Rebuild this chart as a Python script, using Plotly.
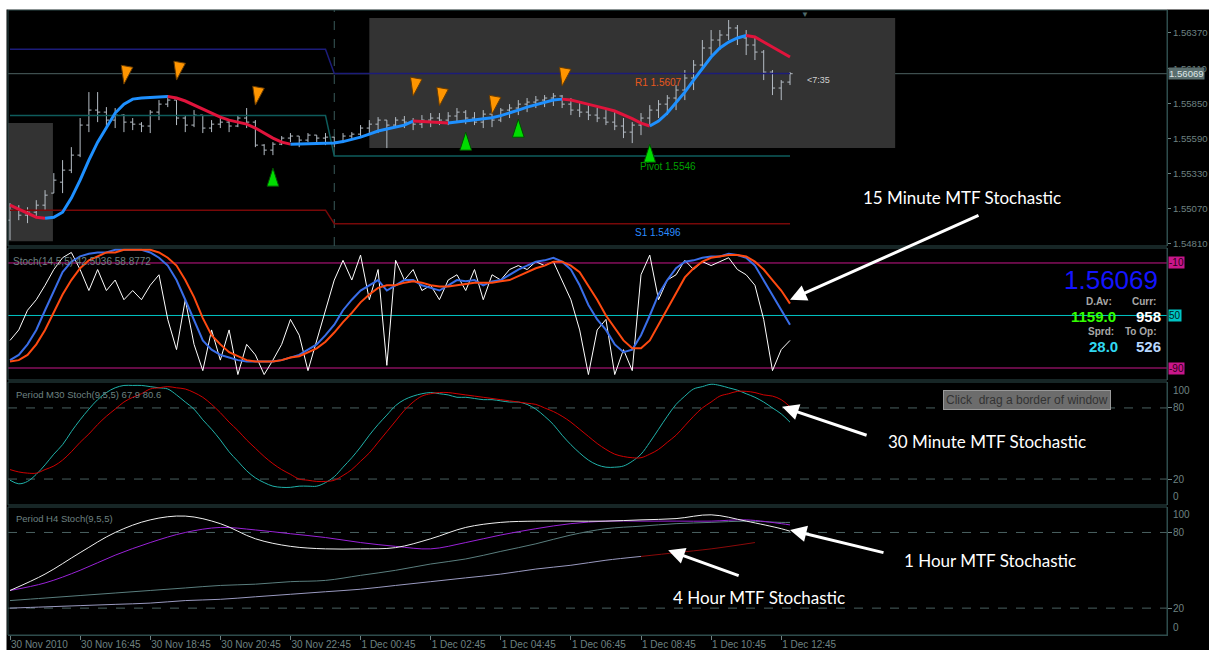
import plotly.graph_objects as go

# ---------------- data ----------------
time_labels = ["30 Nov 2010", "30 Nov 16:45", "30 Nov 18:45", "30 Nov 20:45", "30 Nov 22:45",
               "1 Dec 00:45", "1 Dec 02:45", "1 Dec 04:45", "1 Dec 06:45", "1 Dec 08:45",
               "1 Dec 10:45", "1 Dec 12:45"]
label_bars = [0, 8, 16, 24, 32, 40, 48, 56, 64, 72, 80, 88]
n_bars = 90
bars = list(range(n_bars))

opens = [1.54986,1.55060,1.55023,1.55045,1.55097,1.55186,1.55267,1.55356,1.55467,1.55689,
         1.55800,1.55785,1.55726,1.55763,1.55711,1.55696,1.55682,1.55785,1.55844,1.55874,
         1.55741,1.55689,1.55763,1.55667,1.55696,1.55711,1.55682,1.55741,1.55711,1.55541,
         1.55504,1.55548,1.55593,1.55608,1.55578,1.55615,1.55593,1.55600,1.55563,1.55608,
         1.55622,1.55667,1.55696,1.55726,1.55689,1.55726,1.55711,1.55696,1.55726,1.55741,
         1.55726,1.55756,1.55785,1.55741,1.55711,1.55770,1.55726,1.55800,1.55815,1.55844,
         1.55859,1.55874,1.55889,1.55904,1.55844,1.55800,1.55785,1.55763,1.55741,1.55711,
         1.55682,1.55637,1.55689,1.55741,1.55800,1.55844,1.55889,1.55948,1.56037,1.56133,
         1.56259,1.56318,1.56355,1.56407,1.56333,1.56281,1.56229,1.56081,1.55963,1.56007]
highs = [1.55112,1.55097,1.55082,1.55134,1.55208,1.55334,1.55430,1.55526,1.55741,1.55933,
         1.55933,1.55822,1.55815,1.55770,1.55741,1.55711,1.55800,1.55874,1.55911,1.55874,
         1.55763,1.55800,1.55763,1.55726,1.55741,1.55726,1.55763,1.55815,1.55726,1.55548,
         1.55563,1.55608,1.55630,1.55608,1.55630,1.55615,1.55630,1.55600,1.55630,1.55637,
         1.55689,1.55726,1.55748,1.55726,1.55748,1.55756,1.55741,1.55763,1.55778,1.55778,
         1.55785,1.55815,1.55800,1.55785,1.55800,1.55785,1.55815,1.55844,1.55874,1.55889,
         1.55904,1.55911,1.55926,1.55911,1.55889,1.55852,1.55837,1.55815,1.55800,1.55785,
         1.55741,1.55711,1.55778,1.55837,1.55874,1.55911,1.55985,1.56096,1.56170,1.56318,
         1.56392,1.56392,1.56466,1.56429,1.56392,1.56333,1.56244,1.56096,1.56022,1.56081]
lows = [1.54838,1.54986,1.54964,1.55008,1.55060,1.55186,1.55186,1.55334,1.55452,1.55637,
        1.55711,1.55667,1.55667,1.55637,1.55652,1.55637,1.55630,1.55726,1.55822,1.55689,
        1.55637,1.55674,1.55630,1.55637,1.55667,1.55637,1.55674,1.55667,1.55526,1.55467,
        1.55467,1.55541,1.55563,1.55526,1.55563,1.55556,1.55541,1.55526,1.55556,1.55578,
        1.55593,1.55630,1.55630,1.55519,1.55674,1.55667,1.55652,1.55667,1.55674,1.55689,
        1.55689,1.55711,1.55696,1.55689,1.55667,1.55674,1.55711,1.55741,1.55763,1.55785,
        1.55815,1.55822,1.55830,1.55815,1.55763,1.55748,1.55726,1.55711,1.55689,1.55652,
        1.55593,1.55556,1.55615,1.55689,1.55741,1.55763,1.55800,1.55874,1.55948,1.56096,
        1.56207,1.56244,1.56318,1.56281,1.56207,1.56170,1.56022,1.55911,1.55874,1.55985]
closes = [1.55060,1.55023,1.55045,1.55097,1.55171,1.55282,1.55356,1.55467,1.55689,1.55800,
          1.55785,1.55726,1.55763,1.55711,1.55696,1.55682,1.55785,1.55844,1.55874,1.55741,
          1.55689,1.55763,1.55667,1.55696,1.55711,1.55682,1.55741,1.55711,1.55541,1.55504,
          1.55548,1.55593,1.55608,1.55578,1.55615,1.55593,1.55600,1.55563,1.55608,1.55622,
          1.55667,1.55696,1.55726,1.55689,1.55726,1.55711,1.55696,1.55726,1.55741,1.55726,
          1.55756,1.55785,1.55741,1.55711,1.55770,1.55726,1.55800,1.55815,1.55844,1.55859,
          1.55874,1.55889,1.55904,1.55844,1.55800,1.55785,1.55763,1.55741,1.55711,1.55682,
          1.55637,1.55689,1.55741,1.55800,1.55844,1.55889,1.55948,1.56037,1.56133,1.56259,
          1.56318,1.56355,1.56407,1.56333,1.56281,1.56229,1.56081,1.55963,1.56007,1.56069]

# smoothed trend line (blue rising / red falling)
trend_ma = [1.55097,1.55067,1.55038,1.55008,1.55001,1.55008,1.55045,1.55149,1.55282,1.55430,
            1.55563,1.55674,1.55778,1.55844,1.55881,1.55889,1.55893,1.55896,1.55900,1.55889,
            1.55867,1.55837,1.55808,1.55778,1.55748,1.55726,1.55711,1.55696,1.55667,1.55630,
            1.55593,1.55563,1.55548,1.55550,1.55551,1.55553,1.55554,1.55556,1.55567,1.55581,
            1.55600,1.55622,1.55645,1.55660,1.55674,1.55689,1.55719,1.55715,1.55711,1.55708,
            1.55704,1.55711,1.55719,1.55726,1.55733,1.55744,1.55759,1.55778,1.55800,1.55822,
            1.55841,1.55859,1.55874,1.55881,1.55874,1.55859,1.55844,1.55830,1.55811,1.55793,
            1.55767,1.55737,1.55704,1.55682,1.55719,1.55778,1.55852,1.55933,1.56022,1.56111,
            1.56192,1.56259,1.56303,1.56333,1.56351,1.56340,1.56303,1.56266,1.56229,1.56192]

price_ticks = [1.56370, 1.56110, 1.55850, 1.55590, 1.55330, 1.55070, 1.54810]
bid_price = 1.56069
bid_text = "1.56069"
timer_text = "<7:35"

pivot_names = ["R1", "Pivot", "S1"]
pivot_prev = [1.5625, 1.5576, 1.5506]
pivot_curr = [1.5607, 1.5546, 1.5496]
day_start_bar = 37

# fractal arrow tips (down arrows: tip at bottom, up arrows: tip at top)
frac_dn_x = [13, 19, 28, 46, 49, 55, 63]
frac_dn_y = [1.55992, 1.56022, 1.55837, 1.55904, 1.55830, 1.55770, 1.55978]
frac_up_x = [30, 52, 58, 73]
frac_up_y = [1.55371, 1.55637, 1.55733, 1.55548]

box_x0 = [-1.0, 41.0]
box_x1 = [4.9, 101.0]
box_lo = [1.54831, 1.55519]
box_hi = [1.55704, 1.56481]

# 15 minute stochastic
st_white = [31,39,54,62,73,85,94,98,85,69,
            85,69,77,62,69,62,73,81,47,24,
            62,28,8,39,16,39,5,28,20,5,
            16,28,47,35,8,31,54,77,92,77,
            96,62,85,12,92,77,85,69,73,62,
            77,81,69,85,62,81,77,85,88,85,
            91,88,91,77,62,39,5,39,47,5,
            24,8,81,96,62,77,81,92,85,91,
            88,91,94,85,81,73,47,8,24,31]
st_blue = [16,20,28,39,54,69,83,91,95,97,
           98,98,100,100,100,100,98,94,88,77,
           62,47,31,24,20,18,16,15,15,15,
           15,16,18,20,24,28,35,43,54,62,
           69,73,77,69,73,77,77,73,71,69,
           73,77,76,77,73,76,77,81,85,88,
           91,92,94,91,85,73,58,47,39,28,
           22,24,35,50,66,77,86,91,92,94,
           95,95,97,96,94,88,77,66,54,43]
st_orange = [15,16,20,28,39,52,66,77,86,92,
             95,98,98,100,100,100,100,98,94,88,
             77,64,48,35,28,22,19,16,15,15,
             15,16,18,19,22,25,30,37,45,52,
             60,66,71,73,73,75,76,75,73,72,
             72,73,74,75,75,75,76,77,80,83,
             86,88,91,91,88,83,73,62,50,40,
             31,25,25,31,43,56,68,79,86,91,
             94,95,96,96,95,91,85,77,69,59]
st_levels = [90, 50, 10]
st_level_text = ["-10", "50", "-90"]

# 30 minute stochastic
m30_k = [19,16,18,24,32,41,49,60,70,79,
         87,93,97,99,99,99,98,97,96,91,
         85,79,70,62,53,43,35,27,21,17,
         14,13,13,14,14,14,17,22,30,38,
         47,57,66,74,82,87,90,92,93,92,
         91,89,89,88,87,87,86,85,85,83,
         79,73,66,57,49,42,36,32,30,30,
         31,35,41,51,62,73,83,90,96,98,
         100,99,97,95,92,89,85,80,75,68]
m30_d = [28,26,25,25,28,31,36,43,51,58,
         66,73,79,85,89,92,96,97,98,97,
         96,93,89,83,76,68,61,53,46,39,
         33,28,24,20,19,18,18,19,23,28,
         35,42,51,60,69,78,85,90,92,93,
         93,92,91,90,89,88,87,86,85,84,
         83,80,77,73,68,62,56,50,45,41,
         39,38,38,41,45,51,57,65,73,80,
         85,90,92,94,94,93,91,90,87,81]

# H4 stochastic (sampled every 4 bars)
h4_x = [0,4,8,12,16,20,24,28,32,36,40,44,48,52,56,60,64,68,72,76,80,84,88,89]
h4_white = [34,47,64,80,90,93,87,75,69,67,67,68,75,84,88,89,89,89,90,91,94,89,83,81]
h4_purple = [34,40,50,62,72,80,84,82,79,76,72,69,67,72,78,83,87,89,89,89,89,90,87,86]
h4_slow = [26,28,30,32,34,36,38,39,41,42,46,50,55,59,65,71,78,83,85,87,88,89,88,88]
h4_long_x = [0,4,8,12,16,20,24,28,32,36,40,44,48,52,56,60,64,68,72]
h4_long = [20,21,22,23,24,26,27,29,31,33,35,38,41,44,47,51,54,58,61]
h4_long2_x = [72,76,80,85]
h4_long2 = [61,64,67,72]
osc_levels = [80, 20]

# ---------------- geometry ----------------
W, H = 1209, 650
ML, MR, MT, MB = 8, 42, 10, 15
PW = W - ML - MR
PH = H - MT - MB


def fx(px):
    return (px - ML) / PW


def fy(py):
    return (H - MB - py) / PH


BAR_PX = 8.764
X0 = -(10 - ML) / BAR_PX
X1 = X0 + PW / BAR_PX

D1 = [fy(246), 1.0]
D2 = [fy(380), fy(248)]
D3 = [fy(505), fy(382)]
D4 = [0.0, fy(507)]

frame_col = "#2f4c4c"
axis_col = "#6e8282"
FONT = "Liberation Sans, Arial, sans-serif"
axis_font = dict(family=FONT, size=10, color=axis_col)
yaxis_font = dict(family=FONT, size=9.6, color=axis_col)

fig = go.Figure()

# pivot lines
pivot_colors = ["#1c1c7a", "#0e5c5c", "#780808"]
for k in range(3):
    fig.add_trace(go.Scatter(
        x=[0, day_start_bar - 1, day_start_bar, bars[-1]],
        y=[pivot_prev[k], pivot_prev[k], pivot_curr[k], pivot_curr[k]],
        mode="lines", line=dict(color=pivot_colors[k], width=1.5),
        xaxis="x", yaxis="y", hoverinfo="skip"))

# price bars
fig.add_trace(go.Ohlc(
    x=bars, open=opens, high=highs, low=lows, close=closes,
    increasing=dict(line=dict(color="#b4bcc4", width=1)),
    decreasing=dict(line=dict(color="#b4bcc4", width=1)),
    tickwidth=0.3, xaxis="x", yaxis="y", hoverinfo="skip"))

# trend line coloured by direction
dirs = [trend_ma[i] >= trend_ma[i - 1] for i in range(1, n_bars)]
start = 0
for j in range(1, len(dirs) + 1):
    if j == len(dirs) or dirs[j] != dirs[start]:
        fig.add_trace(go.Scatter(
            x=bars[start:j + 1], y=trend_ma[start:j + 1], mode="lines",
            line=dict(color="#1e90ff" if dirs[start] else "#e0143c", width=3),
            xaxis="x", yaxis="y", hoverinfo="skip"))
        start = j

# fractal arrows
fig.add_trace(go.Scatter(
    x=frac_dn_x, y=frac_dn_y, mode="markers",
    marker=dict(symbol="arrow", angle=190, size=19, color="#ff9500",
                line=dict(color="#6a3c00", width=1)),
    xaxis="x", yaxis="y", hoverinfo="skip"))
fig.add_trace(go.Scatter(
    x=frac_up_x, y=frac_up_y, mode="markers",
    marker=dict(symbol="arrow", angle=0, size=19, color="#00dd00",
                line=dict(color="#005000", width=1)),
    xaxis="x", yaxis="y", hoverinfo="skip"))

# 15m stochastic
fig.add_trace(go.Scatter(x=bars, y=st_white, mode="lines", line=dict(color="#ffffff", width=1),
                         xaxis="x", yaxis="y2", hoverinfo="skip"))
fig.add_trace(go.Scatter(x=bars, y=st_blue, mode="lines", line=dict(color="#3a6ee8", width=2),
                         xaxis="x", yaxis="y2", hoverinfo="skip"))
fig.add_trace(go.Scatter(x=bars, y=st_orange, mode="lines", line=dict(color="#ff4a10", width=2),
                         xaxis="x", yaxis="y2", hoverinfo="skip"))

# 30m stochastic
fig.add_trace(go.Scatter(x=bars, y=m30_k, mode="lines", line=dict(color="#20b2aa", width=1, shape="spline"),
                         xaxis="x", yaxis="y3", hoverinfo="skip"))
fig.add_trace(go.Scatter(x=bars, y=m30_d, mode="lines", line=dict(color="#d00000", width=1, shape="spline"),
                         xaxis="x", yaxis="y3", hoverinfo="skip"))

# H4 stochastic
fig.add_trace(go.Scatter(x=h4_long_x, y=h4_long, mode="lines", line=dict(color="#9a9ac0", width=1, shape="spline"),
                         xaxis="x", yaxis="y4", hoverinfo="skip"))
fig.add_trace(go.Scatter(x=h4_long2_x, y=h4_long2, mode="lines", line=dict(color="#8b0a0a", width=1, shape="spline"),
                         xaxis="x", yaxis="y4", hoverinfo="skip"))
fig.add_trace(go.Scatter(x=h4_x, y=h4_slow, mode="lines", line=dict(color="#5a7e7e", width=1, shape="spline"),
                         xaxis="x", yaxis="y4", hoverinfo="skip"))
fig.add_trace(go.Scatter(x=h4_x, y=h4_purple, mode="lines", line=dict(color="#9a22d8", width=1, shape="spline"),
                         xaxis="x", yaxis="y4", hoverinfo="skip"))
fig.add_trace(go.Scatter(x=h4_x, y=h4_white, mode="lines", line=dict(color="#f0f0f0", width=1, shape="spline"),
                         xaxis="x", yaxis="y4", hoverinfo="skip"))

# ---------------- shapes ----------------
shapes = []
for k in range(len(box_x0)):
    shapes.append(dict(type="rect", xref="x", yref="y", x0=box_x0[k], x1=box_x1[k],
                       y0=box_lo[k], y1=box_hi[k], fillcolor="#333333", line=dict(width=0),
                       layer="below"))
shapes.append(dict(type="line", xref="paper", yref="y", x0=0, x1=1, y0=bid_price, y1=bid_price,
                   line=dict(color="#4d6262", width=1), layer="below"))
shapes.append(dict(type="line", xref="x", yref="y domain", x0=day_start_bar, x1=day_start_bar, y0=0, y1=1,
                   line=dict(color="#3a5a5a", width=1, dash="dash"), layer="below"))
lv_cols = ["#c8168a", "#00c4c4", "#c8168a"]
for k, lv in enumerate(st_levels):
    shapes.append(dict(type="line", xref="paper", yref="y2", x0=0, x1=1, y0=lv, y1=lv,
                       line=dict(color=lv_cols[k], width=1), layer="below"))
for ya in ["y3", "y4"]:
    for lv in osc_levels:
        shapes.append(dict(type="line", xref="paper", yref=ya, x0=0, x1=1, y0=lv, y1=lv,
                           line=dict(color="#4a6060", width=1, dash="dash"), layer="below"))
for yd in ["y domain", "y2 domain", "y3 domain", "y4 domain"]:
    shapes.append(dict(type="rect", xref="paper", yref=yd, x0=0, x1=1, y0=0, y1=1,
                       line=dict(color=frame_col, width=1), layer="above"))
# white window margins
shapes.append(dict(type="rect", xref="paper", yref="paper", x0=fx(-5), x1=fx(W + 5), y0=fy(9.5), y1=fy(-5),
                   fillcolor="white", line=dict(width=0), layer="above"))
shapes.append(dict(type="rect", xref="paper", yref="paper", x0=fx(-5), x1=fx(6.5), y0=fy(H + 5), y1=fy(-5),
                   fillcolor="white", line=dict(width=0), layer="above"))

# ---------------- annotations ----------------
ann = []


def txt(text, px, py, size=10, color=axis_col, anchor="left", family=FONT, **kw):
    d = dict(text=text, x=fx(px), y=fy(py), xref="paper", yref="paper", xanchor=anchor,
             yanchor="middle", showarrow=False, font=dict(family=family, size=size, color=color))
    d.update(kw)
    ann.append(d)


# current price label on axis
ann.append(dict(text=bid_text, x=1, y=bid_price, xref="paper", yref="y", xanchor="left", yanchor="middle",
                xshift=1, showarrow=False, bgcolor="#5a6e6e", borderpad=0,
                font=dict(family=FONT, size=9.6, color="#dfe6e6")))
ann.append(dict(text=timer_text, x=90.7, y=bid_price, xref="x", yref="y", xanchor="left", yanchor="middle",
                yshift=-6, showarrow=False, font=dict(family=FONT, size=9, color="#d0d0d0")))
# pivot labels
piv_label_cols = ["#e8581c", "#00a000", "#2a8cff"]
piv_label_x = [71.1, 71.7, 71.1]
piv_shift = [-8.5, -10, -8.5]
for k in range(3):
    ann.append(dict(text=f"{pivot_names[k]} {pivot_curr[k]:.4f}", x=piv_label_x[k], y=pivot_curr[k],
                    xref="x", yref="y", xanchor="left", yanchor="middle", yshift=piv_shift[k],
                    showarrow=False, font=dict(family=FONT, size=10, color=piv_label_cols[k])))
ann.append(dict(text="▼", x=90.7, y=1, xref="x", yref="paper", xanchor="center", yanchor="top",
                yshift=2, showarrow=False, font=dict(family=FONT, size=8, color="#4f6a6a")))

# stochastic level boxes
box_bg = ["#c8168a", "#00c4c4", "#c8168a"]
for k, lv in enumerate(st_levels):
    ann.append(dict(text=st_level_text[k], x=1, y=lv, xref="paper", yref="y2", xanchor="left",
                    yanchor="middle", xshift=1, showarrow=False, bgcolor=box_bg[k], borderpad=0,
                    font=dict(family=FONT, size=10, color="#2a0018" if k != 1 else "#002020")))
# osc axis labels
for ya, pos in [("y3", [(100, -6.7), (80, 0), (20, 0), (0, 6)]),
                ("y4", [(100, -7), (80, 0), (20, 0), (0, 6)])]:
    for v, sh in pos:
        ann.append(dict(text=str(v), x=1, y=v, xref="paper", yref=ya, xanchor="left", yanchor="middle",
                        xshift=4, yshift=sh, showarrow=False, font=axis_font))

# indicator titles
txt("Stoch(14,5,5) 42.5036 58.8772", 11, 261, size=10)
txt("Period M30 Stoch(9,5,5) 67.9 80.6", 14, 394, size=9.5)
txt("Period H4 Stoch(9,5,5)", 14, 518, size=9.5)

# info block
txt(bid_text, 1160, 280, size=26, color="#1414ff", anchor="right")
txt("<b>D.Av:</b>", 1084, 302, size=10, color="#a8a8a8")
txt("<b>Curr:</b>", 1130, 302, size=10, color="#a8a8a8")
txt("<b>1159.0</b>", 1069, 316, size=15, color="#33ff00")
txt("<b>958</b>", 1134, 316, size=15, color="#ffffff")
txt("<b>Sprd:</b>", 1086, 331, size=10, color="#a8a8a8")
txt("<b>To Op:</b>", 1123, 331, size=10, color="#a8a8a8")
txt("<b>28.0</b>", 1087, 346, size=15, color="#30d8f0")
txt("<b>526</b>", 1134, 346, size=15, color="#b8d8ff")

# button
txt("Click\u00a0 drag a border of window", 1027, 400, size=12, color="#333333", anchor="center",
    bgcolor="#6c6c6c", bordercolor="#9a9a9a", borderwidth=1, borderpad=2)

# callouts
CALL = "Lato, Open Sans, sans-serif"
txt("15 Minute MTF Stochastic", 962, 197, size=17, color="white", anchor="center", family=CALL)
txt("30 Minute MTF Stochastic", 987, 441, size=17, color="white", anchor="center", family=CALL)
txt("1 Hour MTF Stochastic", 990, 560, size=17, color="white", anchor="center", family=CALL)
txt("4 Hour MTF Stochastic", 759, 597, size=17, color="white", anchor="center", family=CALL)

arrow_targets = [(89, 62, "y2", 190, -85), (88.1, 81, "y3", 86, 29),
                 (89, 82, "y4", 95, 23), (75.1, 66, "y4", 72, 26)]
for x, y, ya, ax, ay in arrow_targets:
    ann.append(dict(text="", x=x, y=y, xref="x", yref=ya, ax=ax, ay=ay, showarrow=True,
                    arrowhead=2, arrowsize=1.1, arrowwidth=3, arrowcolor="white"))

fig.update_layout(
    width=W, height=H, margin=dict(l=ML, r=MR, t=MT, b=MB, autoexpand=False),
    paper_bgcolor="black", plot_bgcolor="black", showlegend=False,
    xaxis=dict(domain=[0, 1], range=[X0, X1], anchor="y4", tickmode="array", tickvals=label_bars,
               ticktext=time_labels, ticks="outside", ticklen=4, tickcolor=axis_col,
               ticklabelposition="outside right", showgrid=False, zeroline=False, automargin=False,
               showline=True, linecolor=frame_col, tickfont=axis_font,
               rangeslider=dict(visible=False)),
    yaxis=dict(domain=D1, range=[1.54795, 1.56540], side="right", anchor="x", tickmode="array",
               tickvals=price_ticks, tickformat=".5f", ticks="outside", ticklen=3, tickcolor=axis_col,
               automargin=False,
               showgrid=False, zeroline=False, showline=True, linecolor=frame_col, tickfont=yaxis_font),
    yaxis2=dict(domain=D2, range=[0.86, 101.4], side="right", anchor="x", showticklabels=False,
                automargin=False,
                ticks="", showgrid=False, zeroline=False, showline=True, linecolor=frame_col),
    yaxis3=dict(domain=D3, range=[-1.9, 101.9], side="right", anchor="x", tickmode="array",
                tickvals=osc_levels, ticks="outside", ticklen=4, tickcolor=axis_col, showticklabels=False,
                automargin=False,
                showgrid=False, zeroline=False, showline=True, linecolor=frame_col),
    yaxis4=dict(domain=D4, range=[-1.3, 100.2], side="right", anchor="x", tickmode="array",
                tickvals=osc_levels, ticks="outside", ticklen=4, tickcolor=axis_col, showticklabels=False,
                automargin=False,
                showgrid=False, zeroline=False, showline=True, linecolor=frame_col),
    shapes=shapes, annotations=ann,
)

fig.write_html("out.html", config={"displayModeBar": False},
               post_script="document.body.style.margin='0px';document.body.style.overflow='hidden';")
